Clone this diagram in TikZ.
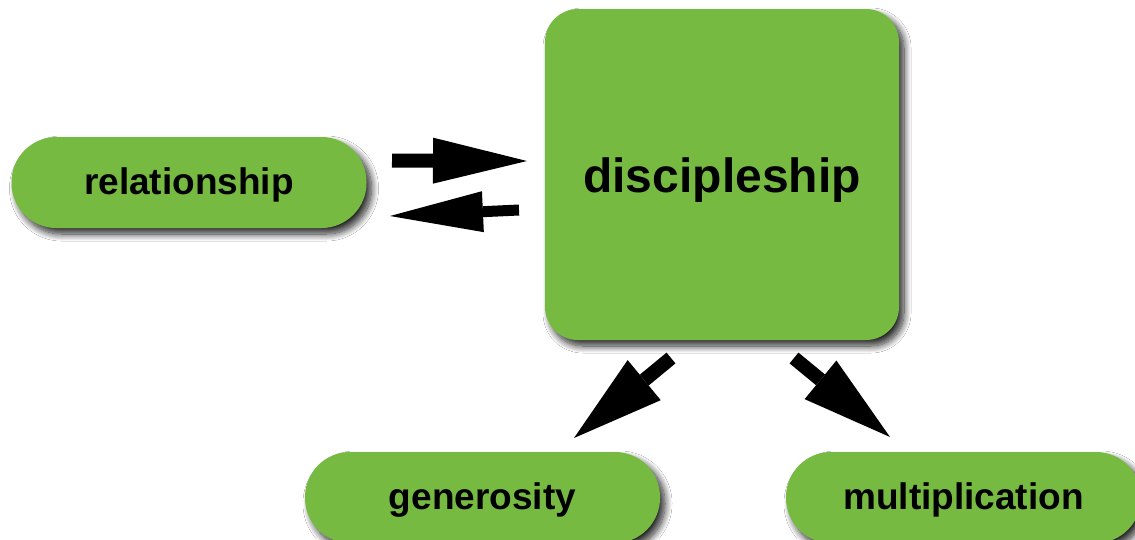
\documentclass[tikz,border=0pt]{standalone}
\usepackage{fontspec}
\setmainfont{Liberation Sans}
\usetikzlibrary{arrows.meta,shadows.blur}
\definecolor{boxgreen}{RGB}{118,186,66}
\tikzset{
  box/.style={rectangle, fill=boxgreen, inner sep=0pt, font=\bfseries\fontsize{37}{40}\selectfont,
    text height=23pt, text depth=0pt,
    blur shadow={shadow xshift=5pt, shadow yshift=-6pt, shadow blur radius=7pt, shadow opacity=85, shadow blur steps=12}},
  pill/.style={box, minimum width=355pt, minimum height=91pt, rounded corners=45pt},
  bigbox/.style={box, minimum width=354pt, minimum height=331pt, rounded corners=33pt,
    font=\bfseries\fontsize{48}{52}\selectfont, text height=35pt},
  blockarrow/.style={draw=black, line width=#1, line cap=butt},
}
\begin{document}
\begin{tikzpicture}[x=1pt,y=-1pt]
\useasboundingbox (0,0) rectangle (1135,539);
\fill[white] (0,0) rectangle (1135,539);
\node[pill] (rel) at (189,182.5) {relationship};
\node[bigbox] (dis) at (722,174.5) {discipleship};
\node[pill] (gen) at (482.5,497.5) {generosity};
\node[pill] (mul) at (963.5,497.5) {multiplication};
% arrow end points
\coordinate (a1s) at (392,160.5);
\coordinate (a1e) at (527,161);
\coordinate (a2s) at (519,210);
\coordinate (a2e) at (390,216);
\coordinate (a3s) at (671,358);
\coordinate (a3e) at (574,438);
\coordinate (a4s) at (794,358);
\coordinate (a4e) at (890,437);
\draw[blockarrow=14pt, -{Triangle[width=46pt,length=94pt,line width=0pt]}] (a1s) -- (a1e);
\draw[blockarrow=11pt, -{Triangle[width=41pt,length=93pt,line width=0pt]}] (a2s) -- (a2e);
\draw[blockarrow=14pt, -{Triangle[width=52pt,length=91pt,line width=0pt]}] (a3s) -- (a3e);
\draw[blockarrow=14pt, -{Triangle[width=50pt,length=90pt,line width=0pt]}] (a4s) -- (a4e);
\end{tikzpicture}
\end{document}
